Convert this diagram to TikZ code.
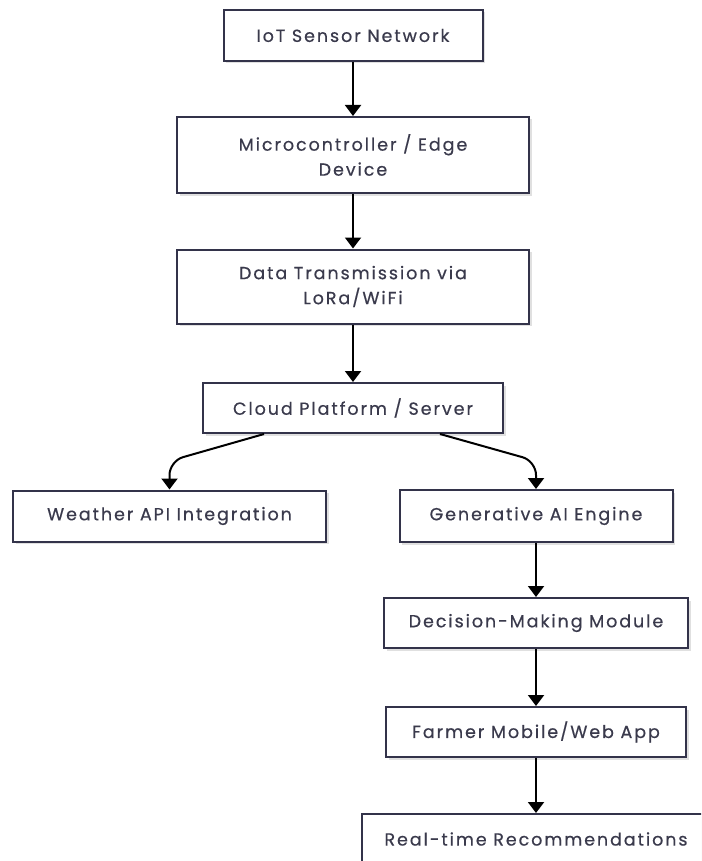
\documentclass[tikz,border=0pt]{standalone}
\usepackage{fontspec}
\setmainfont[LetterSpace=11,FakeBold=0.5]{Poppins}
\usetikzlibrary{arrows.meta,shadows}
\definecolor{boxline}{HTML}{33334A}
\definecolor{txt}{HTML}{3A3A4C}
\tikzset{
  box/.style={draw=boxline, line width=2pt, fill=white, text=txt,
    font=\fontsize{17.5}{25}\selectfont, align=center, inner sep=0pt,
    drop shadow={shadow xshift=2.5pt, shadow yshift=-2.5pt, opacity=0.12, fill=black}},
  arr/.style={draw=black, line width=2pt, -{Triangle[width=16pt,length=11pt]}}
}
\begin{document}
\begin{tikzpicture}[x=1pt,y=-1pt]
\useasboundingbox (0,0) rectangle (701,861);
\clip (0,0) rectangle (701,861);
\node[box, minimum width=259pt, minimum height=51pt] (iot) at (353,35.5) {IoT Sensor Network};
\node[box, minimum width=352pt, minimum height=76pt] (micro) at (353,155) {Microcontroller / Edge\\Device};
\node[box, minimum width=352pt, minimum height=74pt] (data) at (353,286.5) {Data Transmission via\\LoRa/WiFi};
\node[box, minimum width=300pt, minimum height=50pt] (cloud) at (353,408) {Cloud Platform / Server};
\node[box, minimum width=313pt, minimum height=51pt] (weather) at (169.5,516) {Weather API Integration};
\node[box, minimum width=273pt, minimum height=52pt] (gen) at (536,516) {Generative AI Engine};
\node[box, minimum width=304pt, minimum height=50pt] (dec) at (536,623) {Decision-Making Module};
\node[box, minimum width=300pt, minimum height=50pt] (farmer) at (536,732) {Farmer Mobile/Web App};
\node[box, minimum width=348pt, minimum height=50pt] (real) at (536,839) {Real-time Recommendations};

\draw[arr] (iot.south) -- (micro.north);
\draw[arr] (micro.south) -- (data.north);
\draw[arr] (data.south) -- (cloud.north);
\coordinate (cl) at ([xshift=-89pt]cloud.south);
\coordinate (cr) at ([xshift=87pt]cloud.south);
\coordinate (kl) at (weather.north |- 0,461);
\coordinate (kr) at (gen.north |- 0,461);
\draw[arr, rounded corners=14pt] (cl) -- (kl) -- (weather.north);
\draw[arr, rounded corners=14pt] (cr) -- (kr) -- (gen.north);
\draw[arr] (gen.south) -- (dec.north);
\draw[arr] (dec.south) -- (farmer.north);
\draw[arr] (farmer.south) -- (real.north);
\end{tikzpicture}
\end{document}
